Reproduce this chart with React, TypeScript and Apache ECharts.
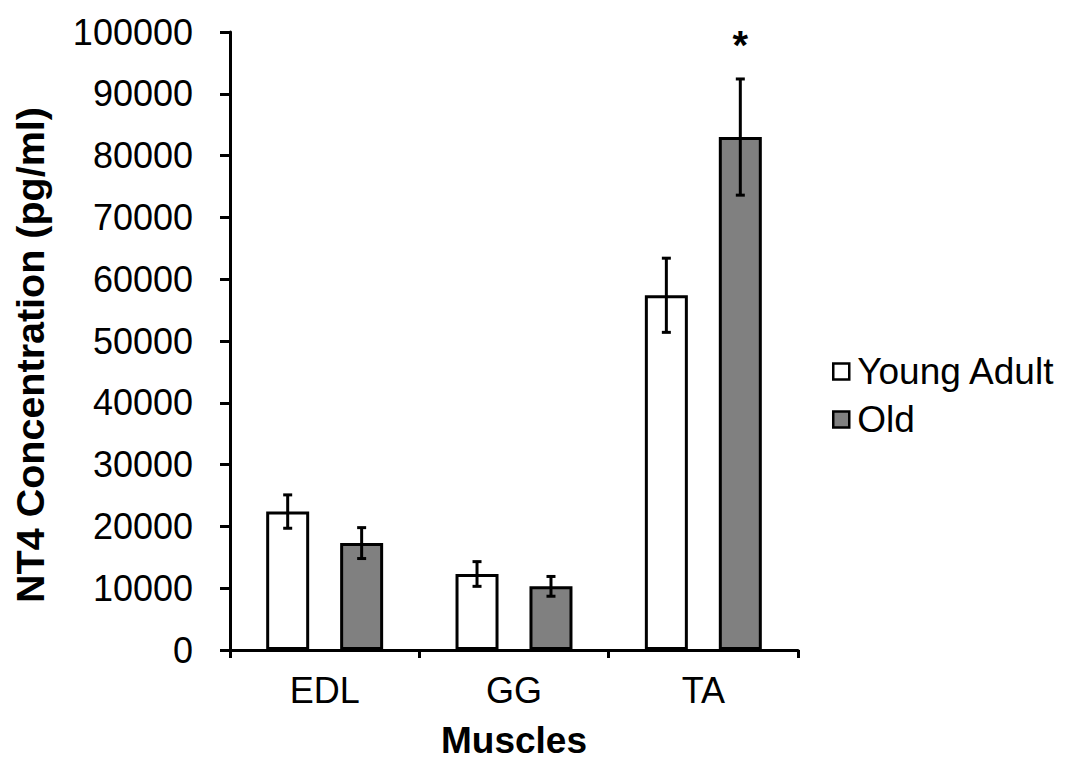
import React, { useEffect, useRef } from "react";
import * as echarts from "echarts";

// Muscle groups on the category axis
const muscles = ["EDL", "GG", "TA"];

// Mean NT4 concentration (pg/ml) and standard error per group
const youngAdult = [22400, 12300, 57400];
const youngAdultErr = [2700, 2000, 6000];
const old = [17300, 10300, 83000];
const oldErr = [2500, 1600, 9400];

// Significance markers drawn above the "Old" bars
const oldSignificance = ["", "", "*"];

const yTicks = { min: 0, max: 100000, interval: 10000 };

const FONT = "'Liberation Sans', Arial, sans-serif";
const BAR_WIDTH = 43;
const BAR_GAP = 0.72;

export default function App() {
  const ref = useRef<HTMLDivElement>(null);

  useEffect(() => {
    if (!ref.current) return;
    const chart = echarts.init(ref.current, null, { renderer: "svg" });

    const half = (BAR_WIDTH + BAR_WIDTH * BAR_GAP) / 2;

    const errorSeries = (
      name: string,
      values: number[],
      errs: number[],
      offset: number,
      marks: string[]
    ) => ({
      type: "custom",
      name: name + " error",
      silent: true,
      z: 5,
      data: values.map((v, i) => [i, v, errs[i]]),
      renderItem: (_params: any, api: any) => {
        const idx = api.value(0);
        const v = api.value(1);
        const e = api.value(2);
        const mark = marks[idx];
        const hi = api.coord([idx, v + e]);
        const lo = api.coord([idx, v - e]);
        const x = hi[0] + offset;
        const cap = 4.5;
        const style = { stroke: "#000", lineWidth: 3 };
        const children: any[] = [
          { type: "line", shape: { x1: x, y1: hi[1], x2: x, y2: lo[1] }, style },
          { type: "line", shape: { x1: x - cap, y1: hi[1], x2: x + cap, y2: hi[1] }, style },
          { type: "line", shape: { x1: x - cap, y1: lo[1], x2: x + cap, y2: lo[1] }, style },
        ];
        if (mark) {
          children.push({
            type: "text",
            style: {
              text: mark,
              x,
              y: hi[1] - 14,
              align: "center",
              verticalAlign: "bottom",
              font: `bold 40px ${FONT}`,
              fill: "#000",
            },
          });
        }
        return { type: "group", children };
      },
    });

    chart.setOption({
      animation: false,
      backgroundColor: "#fff",
      textStyle: { fontFamily: FONT, color: "#000" },
      grid: { left: 230, top: 32, width: 568, height: 618, outerBoundsMode: "none", containLabel: false },
      legend: {
        orient: "vertical",
        left: 827,
        top: 348,
        icon: "rect",
        itemWidth: 16,
        itemHeight: 16,
        itemGap: 11,
        data: ["Young Adult", "Old"],
        itemStyle: { borderColor: "#000", borderWidth: 2.5 },
        textStyle: { fontSize: 37, color: "#000", fontFamily: FONT, padding: [0, 0, 0, 3] },
      },
      xAxis: {
        type: "category",
        data: muscles,
        name: "Muscles",
        nameLocation: "middle",
        nameGap: 72,
        nameMoveOverlap: false,
        nameTextStyle: { fontSize: 37, fontWeight: "bold", color: "#000", fontFamily: FONT },
        axisLine: { lineStyle: { color: "#000", width: 3 } },
        axisTick: { show: true, length: 8, lineStyle: { color: "#000", width: 3 } },
        axisLabel: { fontSize: 36, color: "#000", margin: 22, fontFamily: FONT },
      },
      yAxis: {
        type: "value",
        min: yTicks.min,
        max: yTicks.max,
        interval: yTicks.interval,
        name: "NT4 Concentration (pg/ml)",
        nameLocation: "middle",
        nameGap: 180,
        nameMoveOverlap: false,
        nameTextStyle: {
          fontSize: 39.5,
          fontWeight: "bold",
          color: "#000",
          fontFamily: FONT,
          padding: [0, 28, 0, 0],
        },
        splitLine: { show: false },
        axisLine: { show: true, lineStyle: { color: "#000", width: 3 } },
        axisTick: { show: true, length: 10, lineStyle: { color: "#000", width: 3 } },
        axisLabel: {
          fontSize: 36,
          color: "#000",
          margin: 37,
          fontFamily: FONT,
          formatter: (v: number) => String(v),
        },
      },
      series: [
        {
          type: "bar",
          name: "Young Adult",
          data: youngAdult,
          barWidth: BAR_WIDTH,
          barGap: `${BAR_GAP * 100}%`,
          itemStyle: { color: "#ffffff", borderColor: "#000", borderWidth: 3 },
        },
        {
          type: "bar",
          name: "Old",
          data: old,
          barWidth: BAR_WIDTH,
          barGap: `${BAR_GAP * 100}%`,
          itemStyle: { color: "#808080", borderColor: "#000", borderWidth: 3 },
        },
        errorSeries("Young Adult", youngAdult, youngAdultErr, -half, ["", "", ""]),
        errorSeries("Old", old, oldErr, half, oldSignificance),
      ],
    });

    return () => chart.dispose();
  }, []);

  return (
    <div
      ref={ref}
      style={{ position: "fixed", left: 0, top: 0, width: 1070, height: 763, background: "#fff" }}
    />
  );
}
